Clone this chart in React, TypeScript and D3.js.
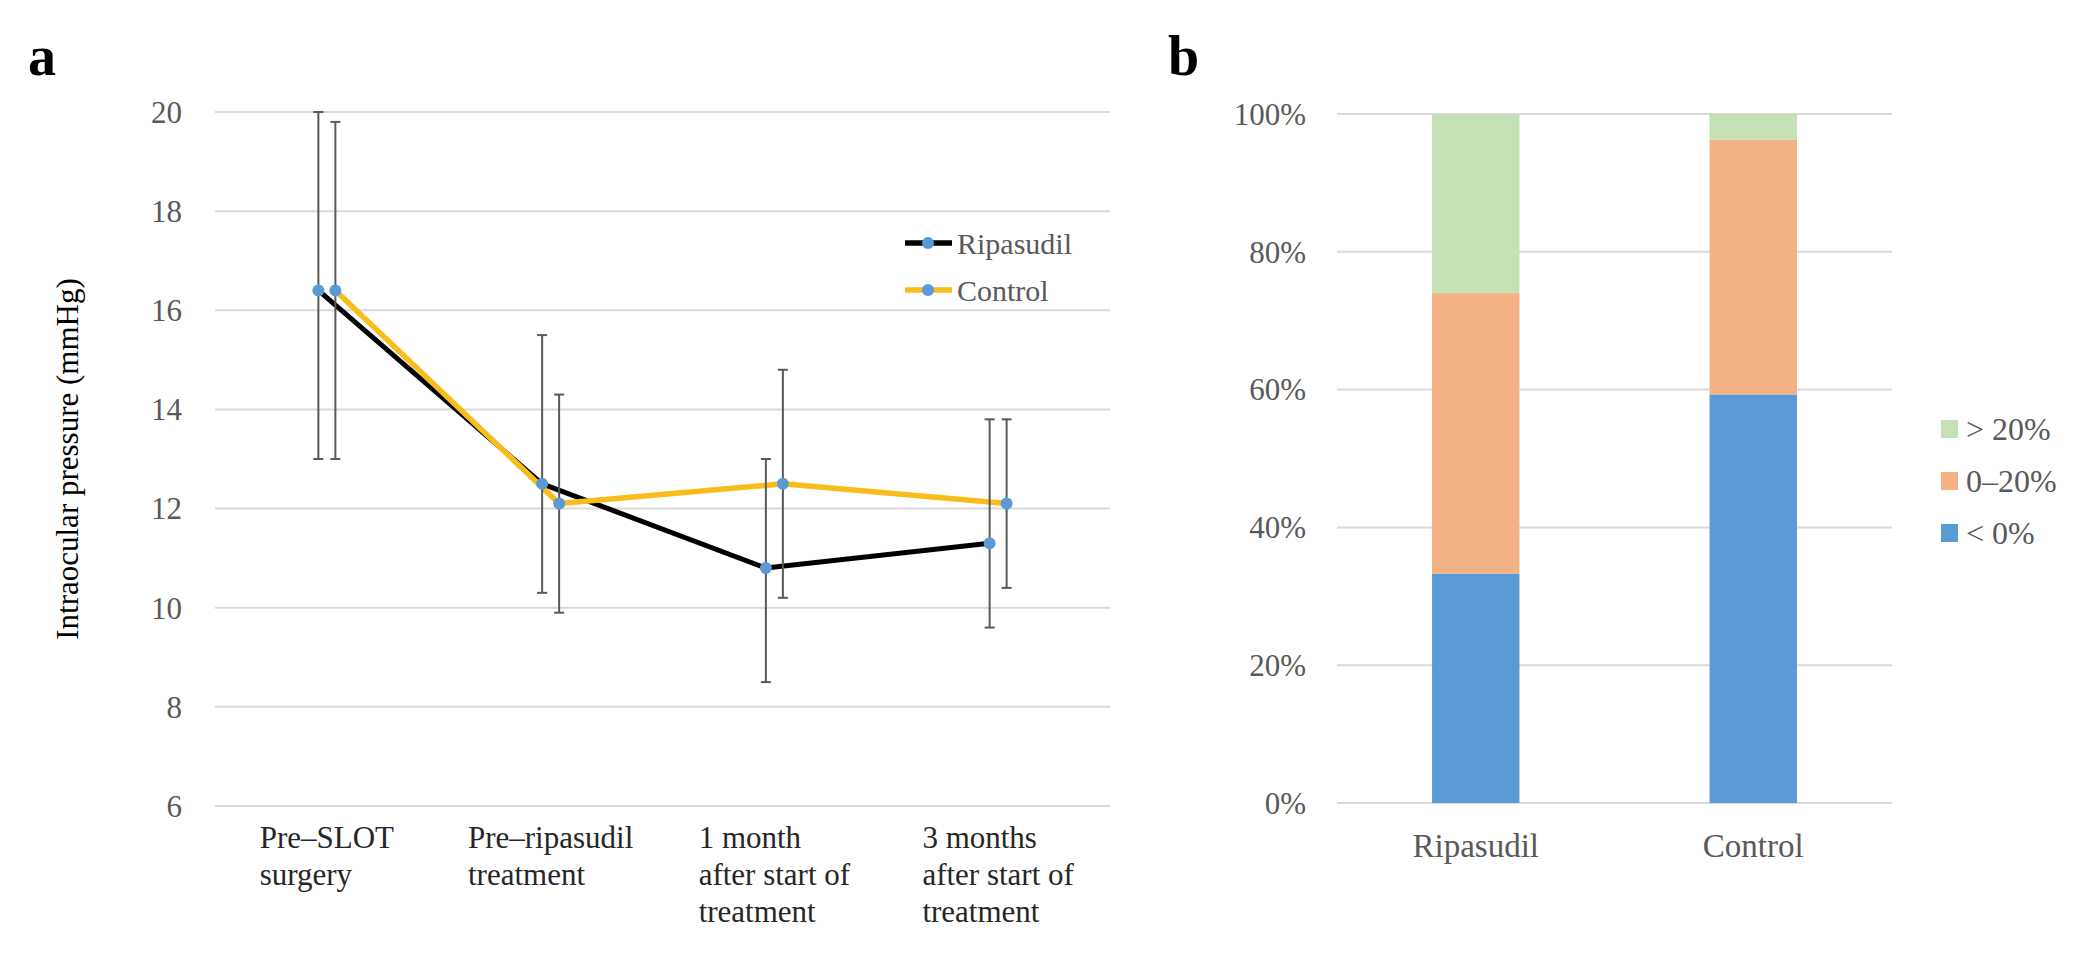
import * as d3 from "d3";

// Panel a: intraocular pressure over time
const timepoints = [
  ["Pre–SLOT", "surgery"],
  ["Pre–ripasudil", "treatment"],
  ["1 month", "after start of", "treatment"],
  ["3 months", "after start of", "treatment"],
];
const ripMean = [16.4, 12.5, 10.8, 11.3];
const ripLow = [13.0, 10.3, 8.5, 9.6];
const ripHigh = [20.0, 15.5, 13.0, 13.8];
const ctrlMean = [16.4, 12.1, 12.5, 12.1];
const ctrlLow = [13.0, 9.9, 10.2, 10.4];
const ctrlHigh = [19.8, 14.3, 14.8, 13.8];
const iopTicks = [6, 8, 10, 12, 14, 16, 18, 20];

// Panel b: share of patients by IOP change
const groupsB = ["Ripasudil", "Control"];
const below0 = [33.3, 59.3];
const zeroTo20 = [40.7, 37.0];
const above20 = [25.9, 3.7];
const pctTicks = [0, 20, 40, 60, 80, 100];

const FONT = "Liberation Serif";
const GRID = "#d9d9d9";
const TICK_TXT = "#595959";
const BLUE = "#5b9bd5";
const ORANGE = "#f4b183";
const GREEN = "#c5e0b4";
const GOLD = "#f8bd1c";
const ERR = "#595959";

let measureCtx: CanvasRenderingContext2D | null = null;
function textWidth(s: string, size: number) {
  if (!measureCtx) measureCtx = document.createElement("canvas").getContext("2d");
  if (!measureCtx) return s.length * size * 0.45;
  measureCtx.font = `${size}px "${FONT}"`;
  return measureCtx.measureText(s).width;
}

export default function App() {
  document.body.style.margin = "0";

  // panel a scales
  const x = d3.scaleBand<number>().domain(d3.range(4)).range([215, 1110]);
  const y = d3.scaleLinear().domain([6, 20]).range([806, 112]);
  const off = 8.5;
  const cx = (i: number, dx: number) => x(i)! + x.bandwidth() / 2 + dx;

  const series = [
    { name: "Ripasudil", mean: ripMean, low: ripLow, high: ripHigh, dx: -off, color: "#000000", width: 5 },
    { name: "Control", mean: ctrlMean, low: ctrlLow, high: ctrlHigh, dx: off, color: GOLD, width: 5.5 },
  ];

  // panel b scales
  const xb = d3.scaleBand<string>().domain(groupsB).range([1337, 1892]).paddingInner(0.685).paddingOuter(0.3425);
  const yb = d3.scaleLinear().domain([0, 100]).range([803, 114]);
  const stackData = groupsB.map((g, i) => ({ group: g, lt0: below0[i], mid: zeroTo20[i], gt20: above20[i] }));
  const layers = d3.stack<any>().keys(["lt0", "mid", "gt20"])(stackData);
  const colors: Record<string, string> = { lt0: BLUE, mid: ORANGE, gt20: GREEN };
  const legendB = [
    { label: "> 20%", color: GREEN },
    { label: "0–20%", color: ORANGE },
    { label: "< 0%", color: BLUE },
  ];

  return (
    <svg width={2084} height={960} style={{ display: "block", background: "#fff" }}>
      {/* ---------- panel a ---------- */}
      <text x={28} y={75} fontFamily={FONT} fontWeight="bold" fontSize={56}>a</text>
      {iopTicks.map((t) => (
        <g key={t}>
          <line x1={215} x2={1110} y1={y(t)} y2={y(t)} stroke={GRID} strokeWidth={2} />
          <text x={182} y={y(t)} dy="0.35em" textAnchor="end" fontFamily={FONT} fontSize={31} fill={TICK_TXT}>{t}</text>
        </g>
      ))}
      {timepoints.map((lines, i) => {
        const w = Math.max(...lines.map((l) => textWidth(l, 31)));
        const x0 = x(i)! + x.bandwidth() / 2 - w / 2;
        return (
          <text key={i} fontFamily={FONT} fontSize={31} fill="#262626">
            {lines.map((l, j) => (
              <tspan key={j} x={x0} y={848 + j * 37}>{l}</tspan>
            ))}
          </text>
        );
      })}
      <text transform={`translate(78,${y(13)}) rotate(-90)`} textAnchor="middle" fontFamily={FONT} fontSize={31} fill="#000">
        Intraocular pressure (mmHg)
      </text>

      {series.map((s) => (
        <path key={s.name}
          d={d3.line<number>().x((_, i) => cx(i, s.dx)).y((d) => y(d))(s.mean) ?? ""}
          fill="none" stroke={s.color} strokeWidth={s.width} strokeLinejoin="round" />
      ))}
      {series.map((s) =>
        s.mean.map((_, i) => {
          const px = cx(i, s.dx);
          return (
            <g key={`${s.name}-${i}`} stroke={ERR} strokeWidth={2}>
              <line x1={px} x2={px} y1={y(s.low[i])} y2={y(s.high[i])} />
              <line x1={px - 5} x2={px + 5} y1={y(s.low[i])} y2={y(s.low[i])} />
              <line x1={px - 5} x2={px + 5} y1={y(s.high[i])} y2={y(s.high[i])} />
            </g>
          );
        })
      )}
      {series.map((s) =>
        s.mean.map((v, i) => <circle key={`${s.name}-m${i}`} cx={cx(i, s.dx)} cy={y(v)} r={6} fill={BLUE} />)
      )}

      {series.map((s, i) => {
        const ly = 243 + i * 47;
        return (
          <g key={`leg-${s.name}`}>
            <line x1={905} x2={952} y1={ly} y2={ly} stroke={s.color} strokeWidth={5.5} />
            <circle cx={928} cy={ly} r={6} fill={BLUE} />
            <text x={957} y={ly} dy="0.35em" fontFamily={FONT} fontSize={30} fill={TICK_TXT}>{s.name}</text>
          </g>
        );
      })}

      {/* ---------- panel b ---------- */}
      <text x={1168} y={75} fontFamily={FONT} fontWeight="bold" fontSize={56}>b</text>
      {pctTicks.map((t) => (
        <g key={t}>
          <line x1={1337} x2={1892} y1={yb(t)} y2={yb(t)} stroke={GRID} strokeWidth={2} />
          <text x={1306} y={yb(t)} dy="0.35em" textAnchor="end" fontFamily={FONT} fontSize={31} fill={TICK_TXT}>{`${t}%`}</text>
        </g>
      ))}
      {layers.map((layer) =>
        layer.map((d) => {
          const top = yb(Math.min(100, d[1]));
          return (
            <rect key={`${layer.key}-${d.data.group}`} x={xb(d.data.group)!} width={xb.bandwidth()}
              y={top} height={yb(d[0]) - top} fill={colors[layer.key]} />
          );
        })
      )}
      {groupsB.map((g) => (
        <text key={g} x={xb(g)! + xb.bandwidth() / 2} y={857} textAnchor="middle" fontFamily={FONT} fontSize={33} fill={TICK_TXT}>{g}</text>
      ))}
      {legendB.map((l, i) => {
        const ly = 429 + i * 52;
        return (
          <g key={l.label}>
            <rect x={1941} y={ly - 9} width={17} height={18} fill={l.color} />
            <text x={1966} y={ly} dy="0.35em" fontFamily={FONT} fontSize={32} fill={TICK_TXT}>{l.label}</text>
          </g>
        );
      })}
    </svg>
  );
}
